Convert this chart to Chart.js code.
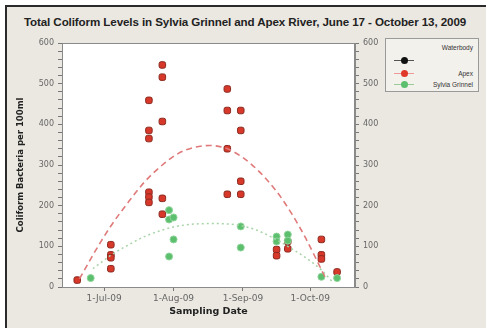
<!DOCTYPE html>
<html>
<head>
<meta charset="utf-8">
<script src="https://cdn.jsdelivr.net/npm/chart.js@4.4.1/dist/chart.umd.min.js"></script>
<style>
  html, body { margin: 0; padding: 0; background: #fff; }
  #frame { position: absolute; left: 5px; top: 5px; width: 481px; height: 323px;
           border-top: 2px solid #2a2a2a; border-left: 2px solid #2a2a2a; background: #ebe8e1; box-sizing: border-box; }
  #wrap { position: absolute; left: 0; top: 0; width: 486px; height: 328px; }
  #title { position: absolute; left: 0; width: 490px; top: 15px; text-align: center;
           font: bold 11.6px "Liberation Sans", Arial, sans-serif; color: #222; letter-spacing: -0.1px; }
  #legend { position: absolute; left: 385px; top: 38px; width: 94px; height: 54px;
            border: 1px solid #9a9a9a; background: #f3f1ec; box-sizing: border-box;
            font: 6.5px "Liberation Sans", Arial, sans-serif; color: #333; }
  .row { position: absolute; left: 0; right: 5px; height: 10px; line-height: 10px; text-align: right; }
  .sym { position: absolute; left: 8px; top: 4px; width: 20px; height: 1px; }
  .dot { position: absolute; left: 7px; top: -3px; width: 7px; height: 7px; border-radius: 50%; }
</style>
</head>
<body>
<div id="frame"></div>
<div id="title">Total Coliform Levels in Sylvia Grinnel and Apex River, June 17 - October 13, 2009</div>
<div id="wrap"><canvas id="chart" width="486" height="328"></canvas></div>
<div id="legend">
  <div class="row" style="top:4px">Waterbody</div>
  <div class="row" style="top:17px"><div class="sym" style="background:#555"><div class="dot" style="background:#111"></div></div></div>
  <div class="row" style="top:30px"><div class="sym" style="background:#e99"><div class="dot" style="background:#e0392b"></div></div>Apex</div>
  <div class="row" style="top:41px"><div class="sym" style="background:#9c9"><div class="dot" style="background:#5cbf6e"></div></div>Sylvia Grinnel</div>
</div>
<script>
// sampling results
const apexDates = ['2009-06-19',
  '2009-07-04', '2009-07-04', '2009-07-04', '2009-07-04',
  '2009-07-21', '2009-07-21', '2009-07-21', '2009-07-21', '2009-07-21', '2009-07-21',
  '2009-07-27', '2009-07-27', '2009-07-27', '2009-07-27', '2009-07-27',
  '2009-08-25', '2009-08-25', '2009-08-25', '2009-08-25',
  '2009-08-31', '2009-08-31', '2009-08-31', '2009-08-31',
  '2009-09-16', '2009-09-16',
  '2009-09-21', '2009-09-21',
  '2009-10-06', '2009-10-06', '2009-10-06',
  '2009-10-13'];
const apexValues = [17,
  104, 79, 72, 45,
  459, 385, 365, 233, 221, 208,
  546, 516, 407, 218, 179,
  487, 434, 340, 228,
  434, 385, 260, 228,
  92, 77,
  112, 94,
  117, 79, 69,
  37];

const sylviaDates = ['2009-06-25',
  '2009-07-30', '2009-07-30', '2009-07-30',
  '2009-08-01', '2009-08-01',
  '2009-08-31', '2009-08-31',
  '2009-09-16', '2009-09-16',
  '2009-09-21', '2009-09-21',
  '2009-10-06', '2009-10-13'];
const sylviaValues = [22,
  189, 166, 75,
  171, 117,
  149, 97,
  124, 112,
  129, 114,
  25, 22];

const blackDates = ['2009-07-04', '2009-09-21'];
const blackValues = [45, 94];

// fitted curves
const apexFitDates = ['2009-06-20', '2009-06-27', '2009-07-04', '2009-07-12', '2009-07-19', '2009-07-27',
  '2009-08-03', '2009-08-10', '2009-08-17', '2009-08-25', '2009-09-01', '2009-09-08',
  '2009-09-16', '2009-09-23', '2009-09-29', '2009-10-04', '2009-10-08'];
const apexFitValues = [20, 88, 150, 210, 258, 300, 328, 343, 348, 340, 318, 285, 235, 178, 120, 65, 20];

const sylviaFitDates = ['2009-06-26', '2009-07-04', '2009-07-12', '2009-07-19', '2009-07-27', '2009-08-03',
  '2009-08-17', '2009-08-30', '2009-09-07', '2009-09-14', '2009-09-21', '2009-09-29',
  '2009-10-06', '2009-10-11'];
const sylviaFitValues = [45, 78, 104, 124, 140, 150, 156, 152, 140, 122, 100, 72, 42, 12];

const tickDates = ['2009-07-01', '2009-08-01', '2009-09-01', '2009-10-01'];
const tickLabels = ['1-Jul-09', '1-Aug-09', '1-Sep-09', '1-Oct-09'];

// days after 1 Jul 2009
function dayOf(s) {
  const p = s.split('-');
  return (Date.UTC(+p[0], +p[1] - 1, +p[2]) - Date.UTC(2009, 6, 1)) / 86400000;
}
function pts(dates, values) {
  return dates.map((d, i) => ({ x: dayOf(d), y: values[i] }));
}

const tickDays = tickDates.map(dayOf);
const yFont = { family: '"DejaVu Sans", sans-serif', size: 8 };
const xFont = { family: '"DejaVu Sans", sans-serif', size: 9 };

const plotFrame = {
  id: 'plotFrame',
  beforeDraw(chart) {
    const a = chart.chartArea, c = chart.ctx;
    c.save();
    c.fillStyle = '#ffffff';
    c.fillRect(a.left, a.top, a.right - a.left, a.bottom - a.top);
    c.restore();
  },
  afterDraw(chart) {
    const a = chart.chartArea, c = chart.ctx;
    c.save();
    c.strokeStyle = '#8a8a8a';
    c.lineWidth = 1;
    c.strokeRect(a.left + 0.5, a.top + 0.5, a.right - a.left - 1, a.bottom - a.top);
    c.restore();
  }
};

const yTicks = {
  stepSize: 20, autoSkip: false, color: '#666', font: yFont, padding: 4,
  callback: v => (v % 100 === 0 ? v : '')
};

new Chart(document.getElementById('chart'), {
  type: 'scatter',
  data: {
    datasets: [
      { label: 'Apex fit', data: pts(apexFitDates, apexFitValues), showLine: true,
        cubicInterpolationMode: 'monotone',
        borderColor: '#e07a7a', borderWidth: 1.6, borderDash: [6, 4], pointRadius: 0, fill: false },
      { label: 'Sylvia fit', data: pts(sylviaFitDates, sylviaFitValues), showLine: true,
        cubicInterpolationMode: 'monotone',
        borderColor: '#a8d4a8', borderWidth: 1.5, borderDash: [2, 3], pointRadius: 0, fill: false },
      { label: 'Sylvia Grinnel', data: pts(sylviaDates, sylviaValues), pointStyle: 'circle',
        pointRadius: 3.5, backgroundColor: '#5cbf6e', borderColor: '#8fd49a', borderWidth: 1 },
      { label: 'Apex', data: pts(apexDates, apexValues), pointStyle: 'rectRounded',
        pointRadius: 3.8, backgroundColor: '#d8382a', borderColor: '#8a2a20', borderWidth: 1 },
      { label: 'Waterbody', data: pts(blackDates, blackValues), pointStyle: 'circle',
        pointRadius: 2.2, backgroundColor: '#111', borderColor: '#111', borderWidth: 0 }
    ]
  },
  options: {
    responsive: false,
    animation: false,
    layout: { padding: { top: 43, left: 16, right: 0, bottom: 11 } },
    plugins: { legend: { display: false }, tooltip: { enabled: false }, title: { display: false } },
    scales: {
      x: {
        type: 'linear', position: 'bottom', min: -18.8, max: 112,
        afterBuildTicks: s => { s.ticks = tickDays.map(v => ({ value: v })); },
        afterFit: s => { s.height = 30; },
        grid: { drawOnChartArea: false, drawTicks: true, tickLength: 4, color: '#777' },
        border: { color: '#8a8a8a' },
        ticks: { color: '#666', font: xFont, padding: 2, autoSkip: false,
                 callback: v => tickLabels[tickDays.indexOf(v)] },
        title: { display: true, text: 'Sampling Date', color: '#222', padding: { top: 0, bottom: 0 },
                 font: { family: '"DejaVu Sans", sans-serif', size: 9.5, weight: 'bold' } }
      },
      y: {
        position: 'left', min: 0, max: 600,
        afterFit: s => { s.width = 46; },
        grid: { drawOnChartArea: false, tickLength: 4, color: '#777' },
        border: { color: '#8a8a8a' },
        ticks: yTicks,
        title: { display: true, text: 'Coliform Bacteria per 100ml', color: '#222', padding: { top: 0, bottom: 3 },
                 font: { family: '"DejaVu Sans", sans-serif', size: 8.5, weight: 'bold' } }
      },
      y2: {
        position: 'right', min: 0, max: 600,
        afterFit: s => { s.width = 131; },
        grid: { drawOnChartArea: false, tickLength: 4, color: '#777' },
        border: { color: '#8a8a8a' },
        ticks: yTicks
      }
    }
  },
  plugins: [plotFrame]
});
</script>
</body>
</html>
